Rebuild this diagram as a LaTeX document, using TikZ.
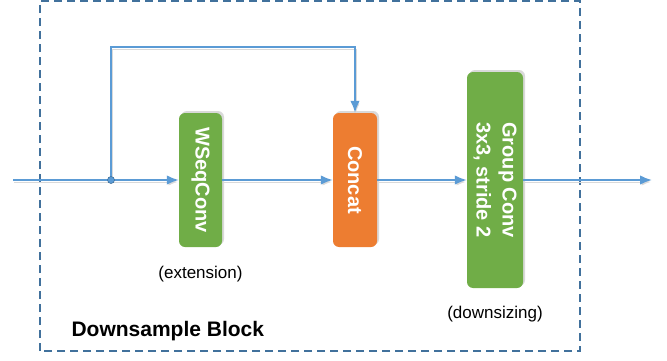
\documentclass[tikz,border=0pt]{standalone}
\usepackage{fontspec}
\setmainfont{Liberation Sans}
\usetikzlibrary{arrows.meta, positioning, calc, shadows}
\definecolor{convgreen}{HTML}{70AD47}
\definecolor{catorange}{HTML}{ED7D31}
\definecolor{flowblue}{HTML}{5B9BD5}
\definecolor{framegray}{HTML}{41719C}
\tikzstyle{block} = [rectangle, rotate=-90, fill=convgreen, text=white, font=\fontsize{20}{26}\selectfont\bfseries, align=center, rounded corners=6pt, minimum width=134pt, minimum height=43pt, drop shadow={shadow xshift=2pt, shadow yshift=2pt, opacity=0.3}]
\tikzstyle{line} = [draw=flowblue, line width=1.8pt, -{Latex[length=12pt,width=9.5pt]}, preaction={draw=black!15, transform canvas={shift={(1pt,-2pt)}}}]
\tikzstyle{note} = [font=\fontsize{17}{20}\selectfont]
\tikzstyle{dot} = [circle, fill=flowblue, draw=framegray, line width=0.6pt, inner sep=0pt, minimum size=7pt]

\begin{document}
\begin{tikzpicture}[x=1pt, y=1pt, node distance=94pt]
        \useasboundingbox (0,0) rectangle (667,360);
        \draw [framegray, line width=2pt, dash pattern=on 8pt off 5pt] (40,9) rectangle (580,359);
        \node [block] (wseq) at (200.5,180) {WSeqConv};
        \node [block, fill=catorange, minimum height=44pt] (concat) at ($(wseq)+(154.5,0)$) {Concat};
        \node [block, minimum width=216pt, minimum height=56pt] (group) at ($(concat)+(140,0)$) {Group Conv\\3x3, stride 2};
        \node [note, below of=wseq] (ext) {(extension)};
        \node [note, below of=group, node distance=134pt] (down) {(downsizing)};
        \node [anchor=west, font=\fontsize{21}{24}\selectfont\bfseries] (title) at (68,29) {Downsample Block};
        \coordinate (in) at (13,180);
        \coordinate (split) at (111,180);
        \coordinate (bend) at (111,313);
        \coordinate (out) at (652,180);

        \path [line] (in) -- (wseq);
        \path [line] (wseq) -- (concat);
        \path [line] (concat) -- (group);
        \path [line] (group) -- (out);
        \path [line] (split) -- (bend) -| (concat); % skip path round WSeqConv
        \node [dot] (splitdot) at (split) {};
    \end{tikzpicture}
\end{document}
